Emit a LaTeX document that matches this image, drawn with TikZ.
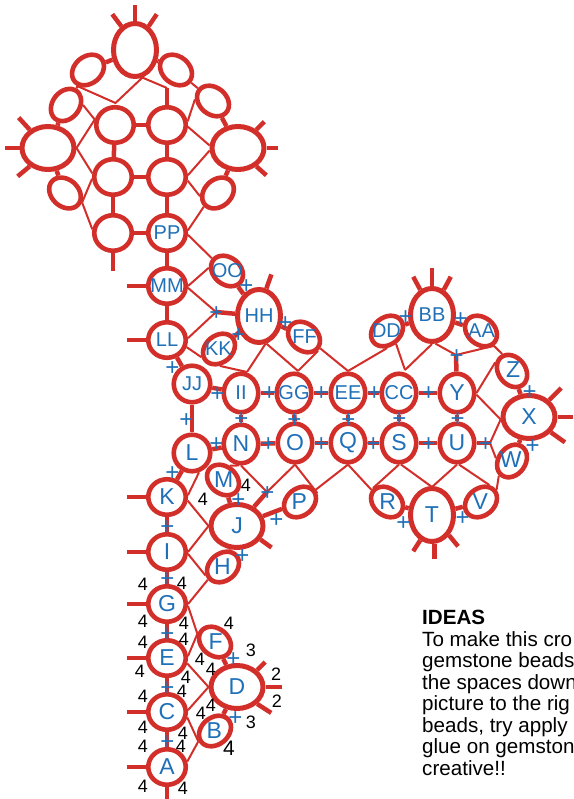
\documentclass[tikz,border=0pt]{standalone}
\usepackage{fontspec}
\setmainfont{Liberation Sans}
\usetikzlibrary{shapes.geometric}
\definecolor{beadred}{HTML}{D32F2A}
\definecolor{markblue}{HTML}{1F70B8}
\newcommand{\ltr}[1]{\makebox[0pt]{#1}}
\newcommand{\tlt}[2]{\rotatebox[origin=c]{#1}{\makebox[0pt]{#2}}}

\begin{document}
\begin{tikzpicture}[x=1pt,y=-1pt,
  bead/.style={ellipse,draw=beadred,fill=white,line width=4.6pt,inner sep=0pt,minimum width=37.5pt,minimum height=35.5pt,text=markblue,font=\fontsize{23}{23}\selectfont},
  duo/.style={font=\fontsize{20}{20}\selectfont},
  tallbead/.style={bead,minimum width=34.5pt,minimum height=38.5pt},
  roundbead/.style={bead,minimum width=36.5pt,minimum height=36.5pt},
  widebead/.style={bead,line width=5pt,minimum width=52pt,minimum height=43pt},
  ovalbead/.style={bead,line width=5pt,minimum width=43pt,minimum height=53pt},
  smallbead/.style={bead,minimum width=35pt,minimum height=27pt},
  heavy/.style={beadred,line width=4.5pt},
  fine/.style={beadred,line width=2pt},
  plus/.style={text=markblue,inner sep=0pt,yshift=-1.5pt,xshift=0.5pt,font=\fontsize{24}{24}\selectfont},
  num/.style={text=black,inner sep=0pt,font=\fontsize{18}{18}\selectfont},
]
  \useasboundingbox (0,0) rectangle (573,799);

  % crown of the motif
  \node[ovalbead] (Ctop) at (135,50) {};
  \node[smallbead,rotate=40] (Cnw) at (88,70) {};
  \node[smallbead,rotate=-40] (Cne) at (176,70) {};
  \node[smallbead,rotate=52] (Cwn) at (66,105) {};
  \node[smallbead,rotate=-40] (Cen) at (213,101) {};
  \node[widebead] (Cw) at (48,148) {};
  \node[widebead] (Ce) at (238,148) {};
  \node[bead] (Cm1) at (115,125) {};
  \node[bead] (Cm2) at (167,125) {};
  \node[bead] (Cm3) at (113,177) {};
  \node[bead] (Cm4) at (167,177) {};
  \node[bead] (Cm5) at (113,233) {};
  \node[smallbead,rotate=-42] (Csw) at (65,193) {};
  \node[smallbead,rotate=42] (Cse) at (218,193) {};
  \node[bead,duo] (PP) at (167,233) {\ltr{PP}};

  % left wing
  \node[bead,duo] (MM) at (167,286) {\ltr{MM}};
  \node[bead,duo] (LL) at (167,340) {\ltr{LL}};
  \node[smallbead,duo,rotate=-40] (OO) at (227,271) {\tlt{40}{OO}};
  \node[ovalbead,duo] (HH) at (259,316) {\ltr{HH}};
  \node[smallbead,duo,rotate=40] (KK) at (219,349) {\tlt{-40}{KK}};
  \node[smallbead,duo,rotate=-40] (FF) at (304,337) {\tlt{40}{FF}};
  \node[roundbead,duo] (JJ) at (192,384) {\ltr{JJ}};
  \node[tallbead,duo] (II) at (241,393) {\ltr{II}};
  \node[tallbead,duo] (GG) at (294,393) {\ltr{GG}};
  \node[tallbead,duo] (EE) at (348,393) {\ltr{EE}};
  \node[roundbead] (L) at (192,453) {\ltr{L}};
  \node[tallbead] (N) at (241,444) {\ltr{N}};
  \node[tallbead] (O) at (295,443) {\ltr{O}};
  \node[tallbead] (Q) at (348,443) {\ltr{Q}};

  % right wing
  \node[ovalbead,duo] (BB) at (432,315) {\ltr{BB}};
  \node[smallbead,duo,rotate=40] (DD) at (387,331) {\tlt{-40}{DD}};
  \node[smallbead,duo,rotate=-40] (AA) at (481,331) {\tlt{40}{AA}};
  \node[tallbead,duo] (CC) at (399,393) {\ltr{CC}};
  \node[tallbead] (Y) at (457,393) {\ltr{Y}};
  \node[tallbead] (S) at (399,443) {\ltr{S}};
  \node[tallbead] (U) at (457,443) {\ltr{U}};
  \node[smallbead,rotate=-52] (Z) at (512,371) {\tlt{52}{Z}};
  \node[widebead] (X) at (529,417) {\ltr{X}};
  \node[smallbead,rotate=55] (W) at (512,461) {\tlt{-55}{W}};
  \node[smallbead,rotate=-40] (R) at (387,502) {\tlt{40}{R}};
  \node[smallbead,rotate=40] (V) at (481,502) {\tlt{-40}{V}};
  \node[ovalbead] (T) at (432,515) {\ltr{T}};

  % stem
  \node[bead] (K) at (167,497) {\ltr{K}};
  \node[bead] (I) at (167,552) {\ltr{I}};
  \node[smallbead,rotate=-40] (M) at (223,480) {\tlt{40}{M}};
  \node[widebead] (J) at (237,526) {\ltr{J}};
  \node[smallbead,rotate=40] (P) at (300,502) {\tlt{-40}{P}};
  \node[smallbead,rotate=40] (H) at (223,567) {\tlt{-40}{H}};
  \node[bead] (G) at (167,604) {\ltr{G}};
  \node[bead] (E) at (167,658) {\ltr{E}};
  \node[bead] (C) at (167,712) {\ltr{C}};
  \node[bead] (A) at (167,767) {\ltr{A}};
  \node[smallbead,rotate=-40] (F) at (215,642) {\tlt{40}{F}};
  \node[widebead] (D) at (237,687) {\ltr{D}};
  \node[smallbead,rotate=40] (B) at (215,731) {\tlt{-40}{B}};

  % meeting points of the thin threads
  \coordinate (jPeak) at (115.5,103);
  \coordinate (jCm2) at (167,88);
  \coordinate (jHH) at (216,312);
  \coordinate (jII) at (247,372);
  \coordinate (jGG) at (298,371);
  \coordinate (jEE) at (348,371);
  \coordinate (jCC) at (405,370);
  \coordinate (jY) at (456,355);
  \coordinate (jU) at (490,443);
  \coordinate (jT) at (432,487);
  \coordinate (jJ) at (267,492);

  % thick links
  \draw[heavy] (Ctop) -- (Cnw);
  \draw[heavy] (Ctop) -- (Cne);
  \draw[heavy] (Cwn) -- (Cw);
  \draw[heavy] (Cen) -- (Ce);
  \draw[heavy] (Cw) -- (Csw);
  \draw[heavy] (Ce) -- (Cse);
  \draw[heavy] (Cm1) -- (Cm2);
  \draw[heavy] (Cm3) -- (Cm4);
  \draw[heavy] (Cm5) -- (PP);
  \draw[heavy] (Cm1) -- (Cm3);
  \draw[heavy] (Cm3) -- (Cm5);
  \draw[heavy] (Cm2) -- (Cm4);
  \draw[heavy] (Cm4) -- (PP);
  \draw[heavy] (jCm2) -- (Cm2);
  \draw[heavy] (PP) -- (MM);
  \draw[heavy] (MM) -- (LL);
  \draw[heavy] (OO) -- (HH);
  \draw[heavy] (jHH) -- (HH);
  \draw[heavy] (HH) -- (KK);
  \draw[heavy] (HH) -- (FF);
  \draw[heavy] (LL) -- (JJ);
  \draw[heavy] (JJ) -- (II);
  \draw[heavy] (II) -- (GG);
  \draw[heavy] (GG) -- (EE);
  \draw[heavy] (EE) -- (CC);
  \draw[heavy] (CC) -- (Y);
  \draw[heavy] (JJ) -- (L);
  \draw[heavy] (II) -- (N);
  \draw[heavy] (GG) -- (O);
  \draw[heavy] (EE) -- (Q);
  \draw[heavy] (CC) -- (S);
  \draw[heavy] (Y) -- (U);
  \draw[heavy] (L) -- (N);
  \draw[heavy] (N) -- (O);
  \draw[heavy] (O) -- (Q);
  \draw[heavy] (Q) -- (S);
  \draw[heavy] (S) -- (U);
  \draw[heavy] (U) -- (jU);
  \draw[heavy] (jY) -- (Y);
  \draw[heavy] (DD) -- (BB);
  \draw[heavy] (BB) -- (AA);
  \draw[heavy] (Z) -- (X);
  \draw[heavy] (W) -- (X);
  \draw[heavy] (R) -- (T);
  \draw[heavy] (V) -- (T);
  \draw[heavy] (K) -- (L);
  \draw[heavy] (K) -- (I);
  \draw[heavy] (I) -- (G);
  \draw[heavy] (M) -- (J);
  \draw[heavy] (jJ) -- (J);
  \draw[heavy] (P) -- (J);
  \draw[heavy] (H) -- (J);
  \draw[heavy] (G) -- (E);
  \draw[heavy] (E) -- (C);
  \draw[heavy] (C) -- (A);
  \draw[heavy] (F) -- (D);
  \draw[heavy] (B) -- (D);

  % picots
  \draw[heavy] (Ctop.north) -- ++(0,-16);
  \draw[heavy] (Ctop.120) -- ++(-9,-12);
  \draw[heavy] (Ctop.60) -- ++(8,-12);
  \draw[heavy] (Cw.west) -- ++(-15,0);
  \draw[heavy] (Cw.135) -- ++(-11,-12);
  \draw[heavy] (Cw.-135) -- ++(-12,10);
  \draw[heavy] (Ce.east) -- ++(11,0);
  \draw[heavy] (Ce.45) -- ++(8,-8);
  \draw[heavy] (Ce.-45) -- ++(10,9);
  \draw[heavy] (Cm5.south) -- ++(0,18);
  \draw[heavy] (MM.west) -- ++(-19,0);
  \draw[heavy] (LL.west) -- ++(-19,0);
  \draw[heavy] (K.west) -- ++(-19,0);
  \draw[heavy] (I.west) -- ++(-19,0);
  \draw[heavy] (G.west) -- ++(-19,0);
  \draw[heavy] (E.west) -- ++(-19,0);
  \draw[heavy] (C.west) -- ++(-19,0);
  \draw[heavy] (A.west) -- ++(-19,0);
  \draw[heavy] (A.south) -- ++(0,12);
  \draw[heavy] (HH.75) -- ++(5,-14);
  \draw[heavy] (J.-30) -- ++(11,8);
  \draw[heavy] (D.40) -- ++(8,-8);
  \draw[heavy] (D.east) -- ++(16,0);
  \draw[heavy] (D.-40) -- ++(14,9);
  \draw[heavy] (X.40) -- ++(12,-12);
  \draw[heavy] (X.east) -- ++(15,0);
  \draw[heavy] (X.-35) -- ++(14,10);
  \draw[heavy] (BB.north) -- ++(0,-18);
  \draw[heavy] (BB.115) -- ++(-7,-13);
  \draw[heavy] (BB.65) -- ++(7,-13);
  \draw[heavy] (T.-85) -- ++(0,15);
  \draw[heavy] (T.-115) -- ++(-7,11);
  \draw[heavy] (T.-50) -- ++(9,11);

  % thin threads
  \draw[fine] (Cnw.-167) -- (jPeak) -- (Ctop.-75) -- (jCm2);
  \draw[fine] (Cnw) -- (Cwn);
  \draw[fine] (Cne) -- (Cen);
  \draw[fine] (Cwn.-52) -- (Cm1.165);
  \draw[fine] (Cw.east) -- (Cm1.165);
  \draw[fine] (Cw.east) -- (Cm3.170);
  \draw[fine] (Cen.-145) -- (Cm2.10);
  \draw[fine] (Cm2.-5) -- (Ce.175);
  \draw[fine] (Cm4.5) -- (Ce.185);
  \draw[fine] (Cm4.-10) -- (Cse.148);
  \draw[fine] (Cse.182) -- (PP.7);
  \draw[fine] (Cm3.185) -- (Csw.13);
  \draw[fine] (Csw.13) -- (Cm5.170);
  \draw[fine] (PP.-5) -- (OO.180);
  \draw[fine] (MM.east) -- (OO.210);
  \draw[fine] (MM.-5) -- (jHH);
  \draw[fine] (LL.5) -- (jHH);
  \draw[fine] (LL.-20) -- (KK.165);
  \draw[fine] (KK.-127) -- (jII);
  \draw[fine] (HH.-77) -- (jII);
  \draw[fine] (HH.-75) -- (jGG);
  \draw[fine] (FF.-5) -- (jGG);
  \draw[fine] (FF.5) -- (jEE);
  \draw[fine] (jEE) -- (DD.-130);
  \draw[fine] (DD.-95) -- (jCC);
  \draw[fine] (BB.south) -- (jCC);
  \draw[fine] (BB.-83) -- (jY);
  \draw[fine] (AA.-9) -- (jY);
  \draw[fine] (AA.-9) -- (Z.172);
  \draw[fine] (Z.205) -- (Y.east);
  \draw[fine] (Y.-5) -- (X.185);
  \draw[fine] (X.185) -- (jU);
  \draw[fine] (jU) -- (W.115);
  \draw[fine] (W.173) -- (V.-2);
  \draw[fine] (S.south) -- (R.175);
  \draw[fine] (Q.south) -- (R.182);
  \draw[fine] (S.-85) -- (jT);
  \draw[fine] (U.south) -- (jT);
  \draw[fine] (U.-85) -- (V.24);
  \draw[fine] (Q.south) -- (P.-2);
  \draw[fine] (O.south) -- (P.-13);
  \draw[fine] (O.south) -- (jJ);
  \draw[fine] (N.south) -- (jJ);
  \draw[fine] (M.104) -- (N.-95);
  \draw[fine] (K.5) -- (L.-70);
  \draw[fine] (K.-10) -- (J.west);
  \draw[fine] (I.east) -- (J.west);
  \draw[fine] (I.-5) -- (H.166);
  \draw[fine] (G.east) -- (H.180);
  \draw[fine] (G.-5) -- (F.195);
  \draw[fine] (E.5) -- (F.195);
  \draw[fine] (E.-15) -- (D.west);
  \draw[fine] (C.5) -- (D.west);
  \draw[fine] (C.-15) -- (B.172);
  \draw[fine] (A.15) -- (B.172);

  % joins
  \node[plus] (p1) at (246,285) {+};
  \node[plus] (p2) at (jHH) {+};
  \node[plus] (p3) at (285,322) {+};
  \node[plus] (p4) at (238,334) {+};
  \node[plus] (p5) at (172,367) {+};
  \node[plus] (p6) at (217,393) {+};
  \node[plus] (p7) at (269,392) {+};
  \node[plus] (p8) at (321,392) {+};
  \node[plus] (p9) at (186,419) {+};
  \node[plus] (p10) at (241,418) {+};
  \node[plus] (p11) at (294,419) {+};
  \node[plus] (p12) at (348,419) {+};
  \node[plus] (p13) at (216,443) {+};
  \node[plus] (p14) at (268,443) {+};
  \node[plus] (p15) at (321,443) {+};
  \node[plus] (p16) at (374,392) {+};
  \node[plus] (p17) at (428,392) {+};
  \node[plus] (p18) at (399,418) {+};
  \node[plus] (p19) at (457,418) {+};
  \node[plus] (p20) at (373,443) {+};
  \node[plus] (p21) at (428,443) {+};
  \node[plus] (p22) at (485,443) {+};
  \node[plus] (p23) at (405,316) {+};
  \node[plus] (p24) at (460,318) {+};
  \node[plus] (p25) at (jY) {+};
  \node[plus] (p26) at (529,391) {+};
  \node[plus] (p27) at (532,445) {+};
  \node[plus] (p28) at (403,522) {+};
  \node[plus] (p29) at (462,517) {+};
  \node[plus] (p30) at (172,472) {+};
  \node[plus] (p31) at (167,526) {+};
  \node[plus] (p32) at (167,578) {+};
  \node[plus] (p33) at (238,499) {+};
  \node[plus] (p34) at (jJ) {+};
  \node[plus] (p35) at (276,519) {+};
  \node[plus] (p36) at (242,555) {+};
  \node[plus] (p37) at (167,633) {+};
  \node[plus] (p38) at (167,687) {+};
  \node[plus] (p39) at (167,741) {+};
  \node[plus] (p40) at (233,658) {+};
  \node[plus] (p41) at (235,717) {+};

  % picot counts
  \node[num] (n1) at (143,584) {4};
  \node[num] (n2) at (182,583) {4};
  \node[num] (n3) at (143,621) {4};
  \node[num] (n4) at (184,623) {4};
  \node[num] (n5) at (143,642) {4};
  \node[num] (n6) at (184,639) {4};
  \node[num] (n7) at (140,671) {4};
  \node[num] (n8) at (186,677) {4};
  \node[num] (n9) at (200,659) {4};
  \node[num] (n10) at (211,669) {4};
  \node[num] (n11) at (229,623) {4};
  \node[num] (n12) at (251,650) {3};
  \node[num] (n13) at (276,674) {2};
  \node[num] (n14) at (277,701) {2};
  \node[num] (n15) at (251,722) {3};
  \node[num] (n16) at (211,705) {4};
  \node[num] (n17) at (201,713) {4};
  \node[num] (n18) at (143,696) {4};
  \node[num] (n19) at (182,691) {4};
  \node[num] (n20) at (143,727) {4};
  \node[num] (n21) at (183,733) {4};
  \node[num] (n22) at (143,746) {4};
  \node[num] (n23) at (181,746) {4};
  \node[num] (n24) at (143,786) {4};
  \node[num] (n25) at (183,788) {4};
  \node[num,font=\fontsize{21}{21}\selectfont] (n26) at (229,748) {4};
  \node[num] (n27) at (203,499) {4};
  \node[num] (n28) at (246,485) {4};

  \node[anchor=north west,align=left,inner sep=0pt,text=black,font=\fontsize{20.6}{21.5}\selectfont] (ideas) at (422,610) {\textbf{IDEAS}\\To make this cro\\gemstone beads\\the spaces down\\picture to the rig\\beads, try apply\\glue on gemston\\creative!!};
\end{tikzpicture}
\end{document}
